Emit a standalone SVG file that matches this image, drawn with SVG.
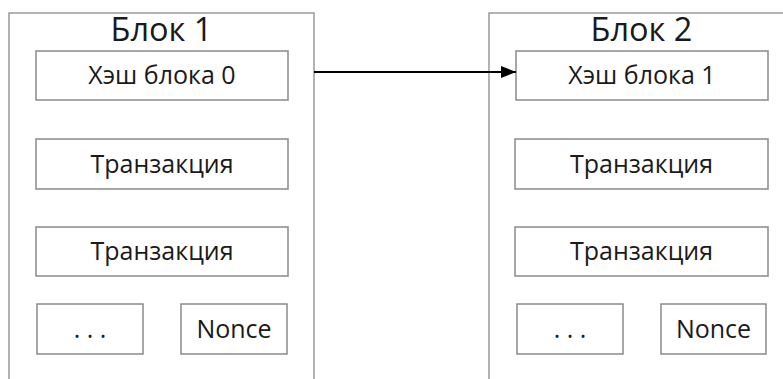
<svg xmlns="http://www.w3.org/2000/svg" width="783" height="379" viewBox="0 0 783 379">
<defs>
<style>
.outer{fill:#fff;stroke:#9a9a9a;stroke-width:1.5}
.inner{fill:#fff;stroke:#8a8a8a;stroke-width:1.5}
.title{font-family:"Open Sans","Liberation Sans",sans-serif;font-size:32.5px;fill:#1a1a1a;text-anchor:middle}
.lbl{font-family:"Open Sans","Liberation Sans",sans-serif;font-size:25px;fill:#1a1a1a;text-anchor:middle}
.conn{stroke:#000;stroke-width:2;fill:none}
</style>
<marker id="arr" markerWidth="16" markerHeight="12" refX="15" refY="6" orient="auto" markerUnits="userSpaceOnUse">
<path d="M0,0 L15,6 L0,12 Z" fill="#000"/>
</marker>
</defs>
<rect width="783" height="379" fill="#fff"/>
<g id="block1">
<rect class="outer" x="9" y="13" width="305" height="380"/>
<text class="title" x="161.5" y="41">Блок 1</text>
</g>
<g id="block1-hash">
<rect class="inner" x="36" y="51" width="252" height="49"/>
<text class="lbl" x="162" y="84">Хэш блока 0</text>
</g>
<g id="block1-tx1">
<rect class="inner" x="36" y="139" width="252" height="50"/>
<text class="lbl" x="162" y="173">Транзакция</text>
</g>
<g id="block1-tx2">
<rect class="inner" x="36" y="227" width="252" height="49"/>
<text class="lbl" x="162" y="260">Транзакция</text>
</g>
<g id="block1-dots">
<rect class="inner" x="37" y="304" width="106" height="50"/>
<text class="lbl" x="90" y="338">. . .</text>
</g>
<g id="block1-nonce">
<rect class="inner" x="181" y="304" width="106" height="50"/>
<text class="lbl" x="234" y="338">Nonce</text>
</g>
<g id="block2">
<rect class="outer" x="489" y="13" width="305" height="380"/>
<text class="title" x="641.5" y="41">Блок 2</text>
</g>
<g id="block2-hash">
<rect class="inner" x="516" y="51" width="252" height="49"/>
<text class="lbl" x="642" y="84">Хэш блока 1</text>
</g>
<g id="block2-tx1">
<rect class="inner" x="515" y="139" width="253" height="50"/>
<text class="lbl" x="641.5" y="173">Транзакция</text>
</g>
<g id="block2-tx2">
<rect class="inner" x="515" y="227" width="253" height="49"/>
<text class="lbl" x="641.5" y="260">Транзакция</text>
</g>
<g id="block2-dots">
<rect class="inner" x="517" y="304" width="106" height="50"/>
<text class="lbl" x="570" y="338">. . .</text>
</g>
<g id="block2-nonce">
<rect class="inner" x="661" y="304" width="105" height="50"/>
<text class="lbl" x="713.5" y="338">Nonce</text>
</g>
<g id="connectors">
<line class="conn" x1="314" y1="72" x2="516" y2="72" marker-end="url(#arr)"/>
</g>
</svg>
